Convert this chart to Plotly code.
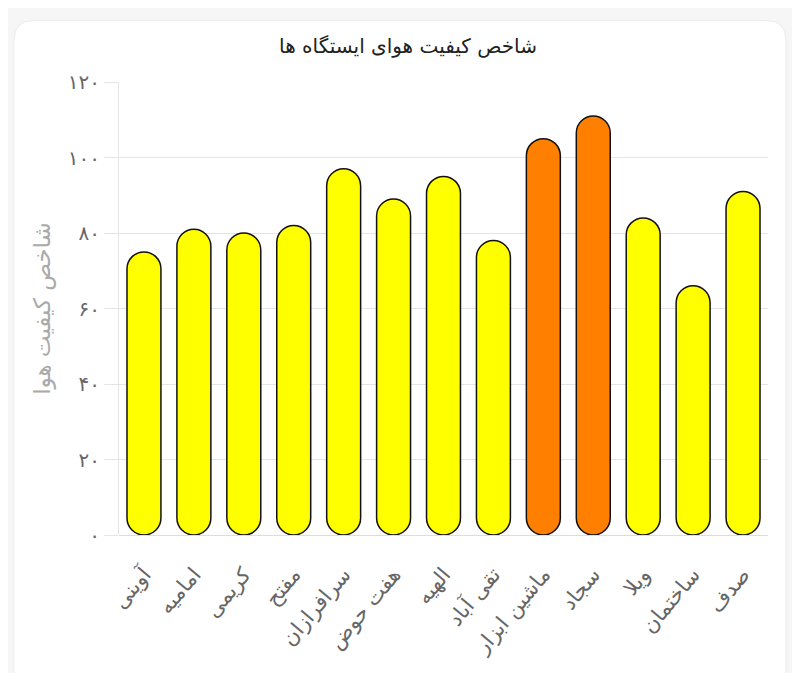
import plotly.graph_objects as go

stations = ["آوینی", "امامیه", "کریمی", "مفتح", "سرافرازان", "هفت حوض", "الهیه",
            "تقی آباد", "ماشین ابزار", "سجاد", "ویلا", "ساختمان", "صدف"]
aqi = [75, 81, 80, 82, 97, 89, 95, 78, 105, 111, 84, 66, 91]

y_ticks = [0, 20, 40, 60, 80, 100, 120]
y_tick_labels = ["۰", "۲۰", "۴۰", "۶۰", "۸۰", "۱۰۰", "۱۲۰"]

FONT = "DejaVu Sans"
colors = ["#FF8000" if v > 100 else "#FFFF00" for v in aqi]

fig = go.Figure()
# with an explicit base plotly rounds both ends of the bar
fig.add_trace(go.Bar(x=stations, y=aqi, base=[0] * len(aqi), width=0.68,
                     marker=dict(color=colors, line=dict(color="#111111", width=1.5),
                                 cornerradius="50%"),
                     hoverinfo="skip"))

# white card behind the chart
x0, x1, y0, y1 = -0.1618, 1.0277, -0.5, 1.136
rx, ry = 20 / 649, 20 / 453
card = (f"M {x0+rx},{y1} L {x1-rx},{y1} Q {x1},{y1} {x1},{y1-ry} "
        f"L {x1},{y0} L {x0},{y0} L {x0},{y1-ry} Q {x0},{y1} {x0+rx},{y1} Z")
fig.add_shape(type="path", path=card, xref="paper", yref="paper",
              fillcolor="white", line=dict(color="#ececec", width=1), layer="below")

fig.update_layout(
    width=800, height=673,
    margin=dict(l=111, r=40, t=74, b=146),
    paper_bgcolor="#f6f6f6",
    plot_bgcolor="rgba(0,0,0,0)",
    showlegend=False,
    font=dict(family=FONT, color="#666666"),
    title=dict(text="شاخص کیفیت هوای ایستگاه ها", x=0.5, xanchor="center",
               y=1 - 38 / 673, yanchor="middle",
               font=dict(family=FONT, size=20, color="#222222")),
)
fig.update_xaxes(
    type="category", showgrid=False, tickangle=-50, automargin=False,
    tickfont=dict(family=FONT, size=21, color="#666666"),
    showline=False, ticks="", ticklabelstandoff=22,
)
fig.update_yaxes(
    range=[0, 120], tickvals=y_ticks, ticktext=y_tick_labels, automargin=False,
    showgrid=True, gridcolor="#e4e4e4", gridwidth=1,
    zeroline=True, zerolinecolor="#dddddd", zerolinewidth=1,
    showline=True, linecolor="#e4e4e4", linewidth=1,
    ticks="outside", ticklen=14, tickcolor="#e4e4e4",
    tickfont=dict(family=FONT, size=20, color="#666666"),
    title=dict(text="شاخص کیفیت هوا", font=dict(family=FONT, size=23, color="#aaaaaa"), standoff=10),
)

fig.write_html("out.html")
